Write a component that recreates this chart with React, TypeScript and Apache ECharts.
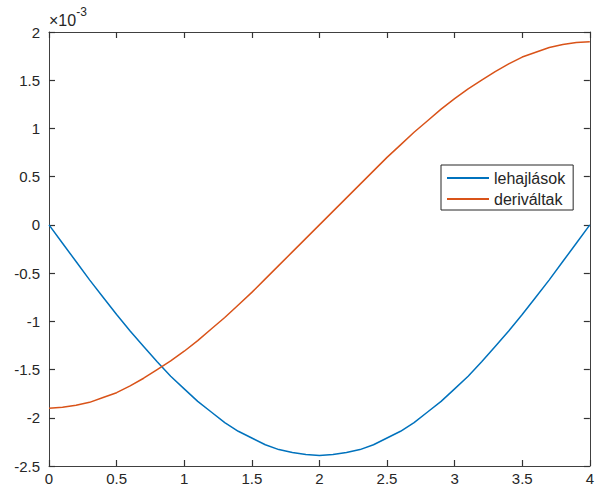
import React, { useEffect, useRef } from "react";
import * as echarts from "echarts";

// x positions
const xValues = [
  0, 0.1, 0.2, 0.3, 0.4, 0.5, 0.6, 0.7, 0.8, 0.9, 1, 1.1, 1.2, 1.3, 1.4, 1.5, 1.6, 1.7, 1.8, 1.9, 2,
  2.1, 2.2, 2.3, 2.4, 2.5, 2.6, 2.7, 2.8, 2.9, 3, 3.1, 3.2, 3.3, 3.4, 3.5, 3.6, 3.7, 3.8, 3.9, 4,
];
// values in units of 10^-3
const lehajlasok = [
  0, -0.19, -0.38, -0.57, -0.75, -0.93, -1.1, -1.26, -1.42, -1.57, -1.7, -1.83, -1.94, -2.05, -2.14, -2.21,
  -2.28, -2.33, -2.36, -2.38, -2.39,
  -2.38, -2.36, -2.33, -2.28, -2.21, -2.14, -2.05, -1.94, -1.83, -1.7, -1.57, -1.42, -1.26, -1.1, -0.93,
  -0.75, -0.57, -0.38, -0.19, 0,
];
const derivaltak = [
  -1.9, -1.89, -1.87, -1.84, -1.79, -1.74, -1.67, -1.59, -1.5, -1.41, -1.31, -1.2, -1.08, -0.96, -0.83,
  -0.7, -0.56, -0.42, -0.28, -0.14, 0,
  0.14, 0.28, 0.42, 0.56, 0.7, 0.83, 0.96, 1.08, 1.2, 1.31, 1.41, 1.5, 1.59, 1.67, 1.74, 1.79, 1.84, 1.87,
  1.89, 1.9,
];
const seriesNames = ["lehajlások", "deriváltak"];
const xTicks = { min: 0, max: 4, interval: 0.5 };
const yTicks = { min: -2.5, max: 2, interval: 0.5 };

const FONT = "'Liberation Sans', Arial, Helvetica, sans-serif";
const TEXT = "#262626";
const AXIS = "#404040";

export default function App() {
  const ref = useRef<HTMLDivElement>(null);
  useEffect(() => {
    if (!ref.current) return;
    const chart = echarts.init(ref.current, undefined, { renderer: "svg" });
    const mkAxisLine = () => ({ show: true, onZero: false, lineStyle: { color: AXIS, width: 1 } });
    const mkTick = () => ({ show: true, inside: true, length: 6, lineStyle: { color: "#333333", width: 1.2 } });
    const mkSplit = () => ({ show: true, lineStyle: { color: "rgba(255,255,255,0)", width: 0.5 } });
    chart.setOption({
      animation: false,
      backgroundColor: "#ffffff",
      grid: { left: 49, top: 32, right: -1, bottom: 26, containLabel: false },
      legend: {
        show: true,
        data: seriesNames,
        orient: "vertical",
        left: 441,
        top: 165,
        padding: [5, 8, 3, 6],
        itemGap: 5,
        itemWidth: 42,
        itemHeight: 2,
        icon: "rect",
        borderColor: "#262626",
        borderWidth: 1,
        backgroundColor: "#ffffff",
        textStyle: { fontFamily: FONT, fontSize: 16, color: TEXT },
      },
      xAxis: [
        {
          type: "value",
          position: "bottom",
          min: xTicks.min,
          max: xTicks.max,
          interval: xTicks.interval,
          axisLine: mkAxisLine(),
          axisTick: mkTick(),
          splitLine: mkSplit(),
          axisLabel: { show: true, margin: 5, fontFamily: FONT, fontSize: 15, color: TEXT, showMinLabel: true, showMaxLabel: true },
        },
        {
          type: "value",
          position: "top",
          min: xTicks.min,
          max: xTicks.max,
          interval: xTicks.interval,
          axisLine: mkAxisLine(),
          axisTick: mkTick(),
          splitLine: mkSplit(),
          axisLabel: { show: false },
        },
      ],
      yAxis: [
        {
          type: "value",
          position: "left",
          min: yTicks.min,
          max: yTicks.max,
          interval: yTicks.interval,
          axisLine: mkAxisLine(),
          axisTick: mkTick(),
          splitLine: mkSplit(),
          axisLabel: { show: true, margin: 9, fontFamily: FONT, fontSize: 15, color: TEXT },
        },
        {
          type: "value",
          position: "right",
          min: yTicks.min,
          max: yTicks.max,
          interval: yTicks.interval,
          axisLine: mkAxisLine(),
          axisTick: mkTick(),
          splitLine: mkSplit(),
          axisLabel: { show: false },
        },
      ],
      graphic: [
        {
          type: "text",
          left: 49,
          top: 6,
          style: {
            text: "{a|×10}{b|-3}",
            rich: {
              a: { fontFamily: FONT, fontSize: 16, fill: TEXT, verticalAlign: "bottom", lineHeight: 22 },
              b: { fontFamily: FONT, fontSize: 12, fill: TEXT, verticalAlign: "top", lineHeight: 22, padding: [0, 0, 8, 0] },
            },
          },
        },
      ],
      series: [
        {
          name: seriesNames[0],
          type: "line",
          data: xValues.map((x, i) => [x, lehajlasok[i]]),
          smooth: false,
          symbol: "none",
          lineStyle: { color: "#0072BD", width: 1.5 },
          itemStyle: { color: "#0072BD" },
        },
        {
          name: seriesNames[1],
          type: "line",
          data: xValues.map((x, i) => [x, derivaltak[i]]),
          smooth: false,
          symbol: "none",
          lineStyle: { color: "#D95319", width: 1.5 },
          itemStyle: { color: "#D95319" },
        },
      ],
    });
    return () => chart.dispose();
  }, []);
  return <div ref={ref} style={{ position: "fixed", left: 0, top: 0, width: 597, height: 492 }} />;
}
